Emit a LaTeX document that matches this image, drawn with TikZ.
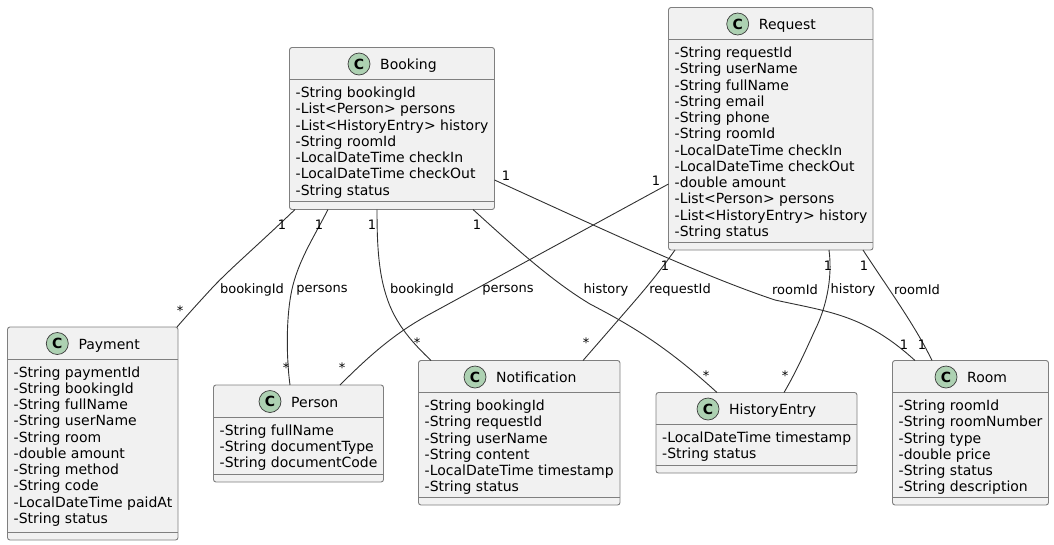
\documentclass[tikz,border=0pt]{standalone}
\usepackage{fontspec}
\setmainfont{DejaVu Sans}
\usetikzlibrary{calc}
\definecolor{boxfill}{HTML}{F1F1F1}
\definecolor{boxline}{HTML}{7F7F7F}
\definecolor{iconline}{HTML}{3C3C3C}
\definecolor{assocline}{HTML}{303030}
\definecolor{iconfill}{HTML}{ADD1B2}
\tikzset{
  classbox/.style={draw=boxline,fill=boxfill,line width=.9pt,rounded corners=2.5pt,inner sep=0pt,outer sep=0pt},
  rule/.style={draw=boxline,line width=.9pt},
  icon/.style={circle,draw=iconline,fill=iconfill,line width=.7pt,minimum size=22pt,inner sep=0pt,font=\fontsize{14}{14}\selectfont\bfseries},
  memberline/.style={anchor=base west,inner sep=0pt,font=\fontsize{14}{16}\selectfont,text=black},
  classtitle/.style={anchor=base west,inner sep=0pt,font=\fontsize{14}{16}\selectfont,text=black},
  assoc/.style={draw=assocline,line width=.9pt},
  edgelabel/.style={inner sep=0pt,font=\fontsize{13}{15}\selectfont,text=black},
}
% name, x1, y1, x2, y2, icon x, title, members
\newcommand{\umlclass}[8]{%
  \pgfmathsetmacro{\cxx}{(#2+#4)/2}%
  \pgfmathsetmacro{\cyy}{(#3+#5)/2}%
  \pgfmathsetmacro{\ww}{#4-#2}%
  \pgfmathsetmacro{\hh}{#5-#3}%
  \node[classbox,minimum width=\ww pt,minimum height=\hh pt] (#1) at (\cxx,\cyy) {};
  \draw[rule] (#2,#3+32) -- (#4,#3+32);
  \draw[rule] (#2,#5-8) -- (#4,#5-8);
  \node[icon] (#1-icon) at (#6,#3+16.5) {C};
  \node[classtitle] (#1-title) at (#6+21,#3+22) {#7};
  \foreach \t [count=\i] in {#8} {
    \node[memberline] (#1-m\i) at (#2+6,#3+50+16.25*\i-16.25) {\t};
  }
}
\begin{document}
\begin{tikzpicture}[x=1pt,y=-1pt]
\useasboundingbox (0,0) rectangle (1054,544);

\umlclass{booking}{289.5}{47.5}{494.5}{209.5}{359}{Booking}{-String bookingId,-List<Person> persons,-List<HistoryEntry> history,-String roomId,-LocalDateTime checkIn,-LocalDateTime checkOut,-String status}
\umlclass{request}{668.5}{7.5}{873}{250}{737.7}{Request}{-String requestId,-String userName,-String fullName,-String email,-String phone,-String roomId,-LocalDateTime checkIn,-LocalDateTime checkOut,-double amount,-List<Person> persons,-List<HistoryEntry> history,-String status}
\umlclass{payment}{7.5}{327}{178}{540}{57.3}{Payment}{-String paymentId,-String bookingId,-String fullName,-String userName,-String room,-double amount,-String method,-String code,-LocalDateTime paidAt,-String status}
\umlclass{person}{213.5}{385}{383.5}{482}{270}{Person}{-String fullName,-String documentType,-String documentCode}
\umlclass{notification}{418.5}{360.5}{620}{505}{475}{Notification}{-String bookingId,-String requestId,-String userName,-String content,-LocalDateTime timestamp,-String status}
\umlclass{history}{656}{392.5}{857}{473}{708}{HistoryEntry}{-LocalDateTime timestamp,-String status}
\umlclass{room}{892.5}{360.5}{1048.5}{505}{946}{Room}{-String roomId,-String roomNumber,-String type,-double price,-String status,-String description}

% connectors: ends are offsets from the named class corners
\draw[assoc] ($(booking.south west)+(5.5,0)$) .. controls (258,245) and (231,268) .. (213,287) .. controls (201,300) and (190,312) .. ($(payment.north east)+(-1,0)$);
\draw[assoc] ($(booking.south west)+(38.5,0)$) .. controls (315,235) and (300,258) .. (293,285) .. controls (286,312) and (286,355) .. ($(person.north west)+(76.5,0)$);
\draw[assoc] ($(booking.south west)+(87.5,0)$) .. controls (377,240) and (378,270) .. (386,295) .. controls (395,325) and (415,345) .. ($(notification.north west)+(12.5,0)$);
\draw[assoc] ($(booking.south west)+(183.5,0)$) .. controls (510,243) and (550,280) .. (590,304) .. controls (630,325) and (665,345) .. ($(history.north west)+(61,0)$);
\draw[assoc] ($(booking.north east)+(0,132.5)$) .. controls (600,228) and (700,275) .. (775,300) .. controls (830,312) and (865,315) .. ($(room.north west)+(22.5,0)$);
\draw[assoc] ($(request.north west)+(0,176.5)$) -- (430,314) .. controls (395,333) and (370,355) .. ($(person.north west)+(126.5,0)$);
\draw[assoc] ($(request.south west)+(6.5,0)$) .. controls (655,278) and (640,295) .. (620,318) -- ($(notification.north west)+(164.5,0)$);
\draw[assoc] ($(request.south west)+(160.5,0)$) .. controls (833,280) and (825,310) .. (815,330) .. controls (805,352) and (796,372) .. ($(history.north west)+(128,0)$);
\draw[assoc] ($(request.south west)+(194.5,0)$) .. controls (885,284) and (915,325) .. ($(room.north west)+(39.5,0)$);

% association labels
\node[edgelabel] (l1) at (252,290) {bookingId};
\node[edgelabel] (l2) at (322,290) {persons};
\node[edgelabel] (l3) at (422,290) {bookingId};
\node[edgelabel] (l4) at (508,290) {persons};
\node[edgelabel] (l5) at (606,290) {history};
\node[edgelabel] (l6) at (680,290) {requestId};
\node[edgelabel] (l7) at (795,290) {roomId};
\node[edgelabel] (l8) at (853,290) {history};
\node[edgelabel] (l9) at (917,290) {roomId};

% multiplicities
\node[edgelabel] (o1) at (282,225) {1};
\node[edgelabel] (o2) at (319,225) {1};
\node[edgelabel] (o3) at (372,225) {1};
\node[edgelabel] (o4) at (477,225) {1};
\node[edgelabel] (o5) at (506,176) {1};
\node[edgelabel] (o6) at (656,181) {1};
\node[edgelabel] (o7) at (665,266) {1};
\node[edgelabel] (o8) at (828,266) {1};
\node[edgelabel] (o9) at (864,266) {1};
\node[edgelabel] (o10) at (904,345) {1};
\node[edgelabel] (o11) at (922,345) {1};
\node[edgelabel] (s1) at (180,311) {*};
\node[edgelabel] (s2) at (286,368) {*};
\node[edgelabel] (s3) at (342,368) {*};
\node[edgelabel] (s4) at (417,343) {*};
\node[edgelabel] (s5) at (586,343) {*};
\node[edgelabel] (s6) at (706,376) {*};
\node[edgelabel] (s7) at (785,376) {*};
\end{tikzpicture}
\end{document}
